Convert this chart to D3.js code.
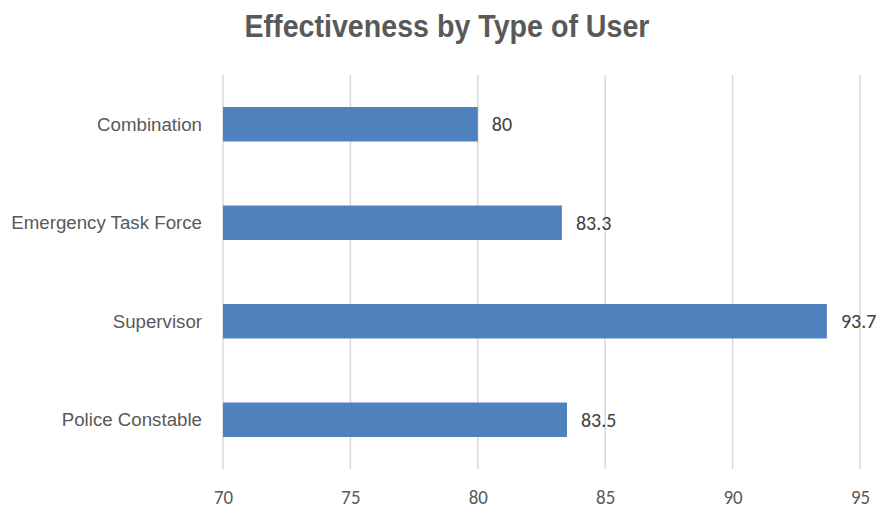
<!DOCTYPE html>
<html>
<head>
<meta charset="utf-8">
<script src="https://cdn.jsdelivr.net/npm/d3@7"></script>
<style>
  html, body { margin: 0; padding: 0; background: #fff; }
  svg { display: block; }
</style>
</head>
<body>
<svg id="chart" width="885" height="510"></svg>
<script>
const categories = ["Combination", "Emergency Task Force", "Supervisor", "Police Constable"];
const values = [80, 83.3, 93.7, 83.5];
const valueLabels = ["80", "83.3", "93.7", "83.5"];
const tickValues = [70, 75, 80, 85, 90, 95];
const title = "Effectiveness by Type of User";

const svg = d3.select("#chart");
const plot = { left: 223, right: 860, top: 75, bottom: 469 };

const sans = "'Liberation Sans', Arial, sans-serif";
const calibri = "Carlito, Calibri, Lato, 'Open Sans', sans-serif";

const x = d3.scaleLinear().domain([70, 95]).range([plot.left, plot.right]);
const y = d3.scaleBand().domain(categories).range([plot.top, plot.bottom])
  .paddingInner(0.65).paddingOuter(0.325);

// gridlines
svg.append("g").selectAll("line").data(tickValues).join("line")
  .attr("x1", d => x(d)).attr("x2", d => x(d))
  .attr("y1", plot.top).attr("y2", plot.bottom)
  .attr("stroke", "#d9d9d9").attr("stroke-width", 1.5);

// bars
svg.append("g").selectAll("rect").data(categories).join("rect")
  .attr("x", x(70))
  .attr("y", d => y(d))
  .attr("width", (d, i) => x(values[i]) - x(70))
  .attr("height", y.bandwidth())
  .attr("fill", "#4f81bd");

// value labels
svg.append("g").selectAll("text").data(categories).join("text")
  .attr("x", (d, i) => x(values[i]) + 14)
  .attr("y", d => y(d) + y.bandwidth() / 2)
  .attr("dy", "0.36em")
  .attr("font-family", calibri)
  .attr("font-size", 20)
  .attr("fill", "#404040")
  .text((d, i) => valueLabels[i]);

// category axis labels
svg.append("g").selectAll("text").data(categories).join("text")
  .attr("x", 202)
  .attr("y", d => y(d) + y.bandwidth() / 2)
  .attr("dy", "0.35em")
  .attr("text-anchor", "end")
  .attr("font-family", sans)
  .attr("font-size", 18.7)
  .attr("fill", "#595959")
  .text(d => d);

// x axis tick labels
const xAxis = d3.axisBottom(x).tickValues(tickValues).tickSize(0).tickPadding(0);
const gx = svg.append("g").attr("transform", `translate(0, 504)`).call(xAxis);
gx.select(".domain").remove();
gx.selectAll("text")
  .attr("dy", 0)
  .attr("y", 0)
  .attr("font-family", calibri)
  .attr("font-size", 21)
  .attr("transform", "scale(0.9,1)")
  .attr("fill", "#595959");

// title
svg.append("text")
  .attr("x", 447).attr("y", 37)
  .attr("text-anchor", "middle")
  .attr("font-family", sans)
  .attr("font-weight", "bold")
  .attr("font-size", 31)
  .attr("textLength", 405)
  .attr("lengthAdjust", "spacingAndGlyphs")
  .attr("fill", "#595959")
  .text(title);
</script>
</body>
</html>
